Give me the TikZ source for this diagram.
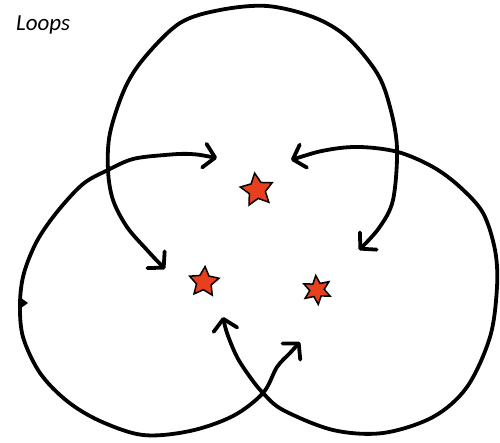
\documentclass[tikz,border=0pt]{standalone}
\usepackage{fontspec}
\setmainfont{Carlito}
\usetikzlibrary{arrows.meta,shapes.geometric}
\definecolor{starred}{HTML}{E8401E}
\begin{document}
\begin{tikzpicture}[x=1pt,y=-1pt,
  barb/.tip={Straight Barb[length=11pt,width=24pt,line cap=round,line join=round]},
  loopline/.style={line width=3.8pt, line cap=round, line join=round, barb-barb},
  starnode/.style={star, draw=black, line width=1.5pt, fill=starred, inner sep=0pt, star point ratio=2.0}]
\useasboundingbox (0,0) rectangle (500,443);
\fill[white] (0,0) rectangle (500,443);
\node[anchor=base west, font=\itshape\fontsize{23}{26}\selectfont, inner sep=0pt] (title) at (16,31) {Loops};
% stars
\node[starnode, star points=5, minimum size=34pt, rotate=8] (s1) at (257,190) {};
\node[starnode, star points=5, minimum size=31pt, rotate=-4] (s2) at (204,282) {};
\node[starnode, star points=6, minimum size=29pt, rotate=5] (s3) at (317,290) {};
% loop end points
\coordinate (ta) at (165,269);
\coordinate (tb) at (359,250);
\coordinate (la) at (217,158);
\coordinate (lb) at (300,342);
\coordinate (ra) at (291,160);
\coordinate (rb) at (223,317);
% top loop
\draw[loopline] plot[smooth, tension=0.55] coordinates {(ta) (147,250) (127,227) (113,200) (108,170) (110,133) (125,88) (145,57) (180,23) (220,10) (267,6) (313,17) (347,37) (377,73) (390,107) (397,148) (393,200) (379,228) (tb)};
% left loop
\draw[loopline] plot[smooth, tension=0.55] coordinates {(la) (190,154) (165,155) (133,159) (108,170) (83,184) (57,212) (37,241) (24,273) (20,303) (23,337) (40,373) (67,401) (100,421) (143,435) (190,431) (233,416) (263,393) (277,367) (290,353) (lb)};
% right loop
\draw[loopline] plot[smooth, tension=0.55] coordinates {(ra) (327,150) (360,147) (398,152) (433,167) (460,187) (483,213) (495,250) (497,287) (490,337) (467,387) (433,417) (383,433) (333,430) (283,410) (263,393) (250,377) (237,357) (227,333) (rb)};
% small tick on left loop
\fill (21,298) -- (28,303) -- (21,308) -- cycle;
\end{tikzpicture}
\end{document}
